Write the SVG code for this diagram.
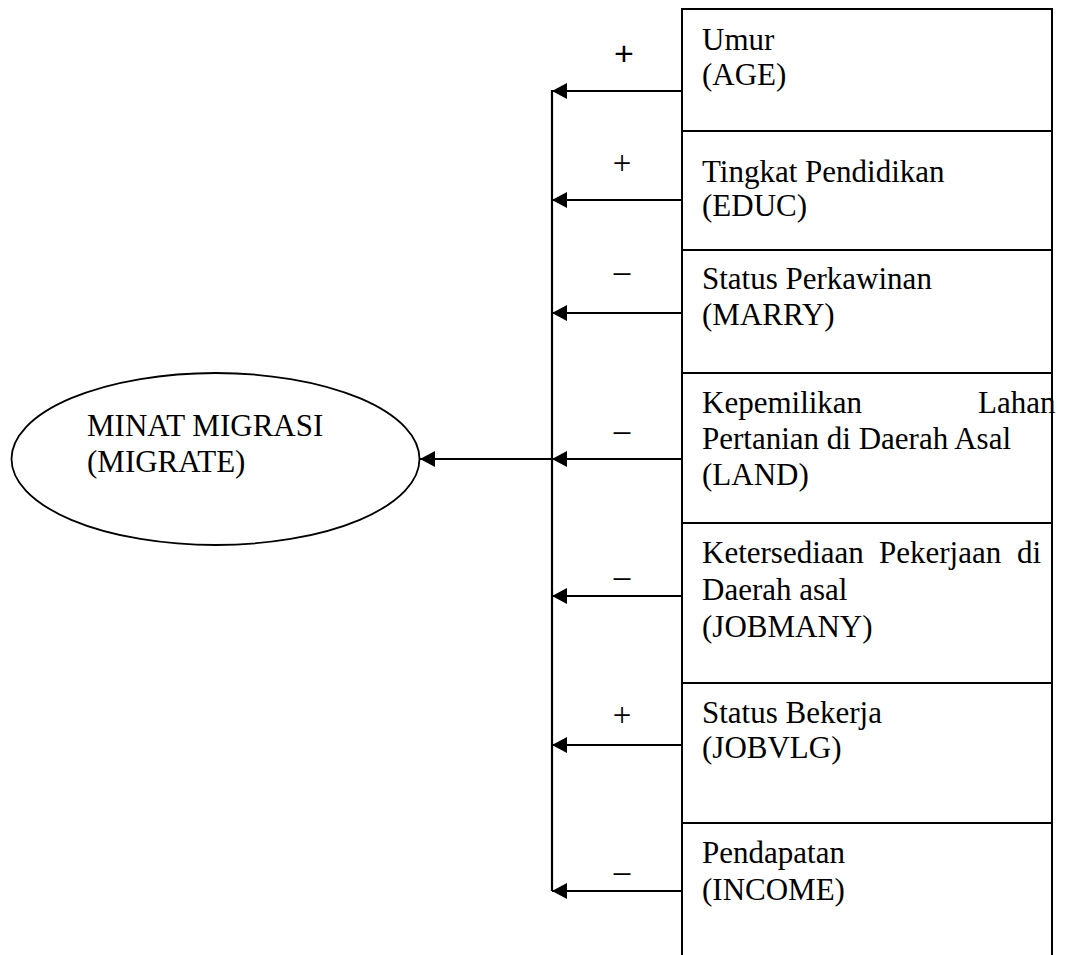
<svg xmlns="http://www.w3.org/2000/svg" width="1074" height="955" viewBox="0 0 1074 955">
  <style>
    .t { font-family: "Liberation Serif", "Times New Roman", serif; font-size: 31px; fill: #000; }
    .s { font-family: "Liberation Serif", "Times New Roman", serif; font-size: 33px; fill: #000; text-anchor: middle; }
    .sb { font-family: "Liberation Sans", Arial, sans-serif; font-size: 34px; fill: #000; text-anchor: middle; }
    .box { fill: none; stroke: #000; stroke-width: 2; }
    .conn { fill: none; stroke: #000; stroke-width: 2.2; }
  </style>
  <defs>
    <marker id="arr" markerUnits="userSpaceOnUse" viewBox="0 0 15 16" markerWidth="15" markerHeight="16" refX="15" refY="8" orient="auto">
      <path d="M0,0 L15,8 L0,16 z" fill="#000"/>
    </marker>
  </defs>
  <rect width="1074" height="955" fill="#fff"/>

  <g id="migrate">
    <ellipse cx="215.5" cy="459" rx="204" ry="86" fill="none" stroke="#000" stroke-width="1.8"/>
    <text class="t" x="87" y="436">MINAT MIGRASI</text>
    <text class="t" x="87" y="472">(MIGRATE)</text>
  </g>

  <g id="factors-frame">
    <path class="box" d="M682,955 V9 H1052 V955"/>
  </g>

  <g id="age">
    <line class="box" x1="682" y1="131" x2="1052" y2="131"/>
    <text class="t" x="702" y="50">Umur</text>
    <text class="t" x="702" y="85">(AGE)</text>
  </g>

  <g id="educ">
    <line class="box" x1="682" y1="250" x2="1052" y2="250"/>
    <text class="t" x="702" y="182">Tingkat Pendidikan</text>
    <text class="t" x="702" y="216">(EDUC)</text>
  </g>

  <g id="marry">
    <line class="box" x1="682" y1="373" x2="1052" y2="373"/>
    <text class="t" x="702" y="289">Status Perkawinan</text>
    <text class="t" x="702" y="325">(MARRY)</text>
  </g>

  <g id="land">
    <line class="box" x1="682" y1="523" x2="1052" y2="523"/>
    <text class="t" x="702" y="413">Kepemilikan</text>
    <text class="t" x="978" y="413">Lahan</text>
    <text class="t" x="702" y="449">Pertanian di Daerah Asal</text>
    <text class="t" x="702" y="485">(LAND)</text>
  </g>

  <g id="jobmany">
    <line class="box" x1="682" y1="683" x2="1052" y2="683"/>
    <text class="t" x="702" y="563">Ketersediaan</text>
    <text class="t" x="879" y="563">Pekerjaan</text>
    <text class="t" x="1017" y="563">di</text>
    <text class="t" x="702" y="600">Daerah asal</text>
    <text class="t" x="702" y="637">(JOBMANY)</text>
  </g>

  <g id="jobvlg">
    <line class="box" x1="682" y1="823" x2="1052" y2="823"/>
    <text class="t" x="702" y="723">Status Bekerja</text>
    <text class="t" x="702" y="758">(JOBVLG)</text>
  </g>

  <g id="income">
    <text class="t" x="702" y="863">Pendapatan</text>
    <text class="t" x="702" y="900">(INCOME)</text>
  </g>

  <g id="connectors">
    <line class="conn" x1="552" y1="90" x2="552" y2="891"/>
    <line class="conn" x1="682" y1="91" x2="552" y2="91" marker-end="url(#arr)"/>
    <line class="conn" x1="682" y1="200" x2="552" y2="200" marker-end="url(#arr)"/>
    <line class="conn" x1="682" y1="313" x2="552" y2="313" marker-end="url(#arr)"/>
    <line class="conn" x1="682" y1="459" x2="552" y2="459" marker-end="url(#arr)"/>
    <line class="conn" x1="682" y1="596" x2="552" y2="596" marker-end="url(#arr)"/>
    <line class="conn" x1="682" y1="745" x2="552" y2="745" marker-end="url(#arr)"/>
    <line class="conn" x1="682" y1="891" x2="552" y2="891" marker-end="url(#arr)"/>
    <line class="conn" x1="552" y1="459" x2="420" y2="459" marker-end="url(#arr)"/>
    <text class="sb" x="624" y="65">+</text>
    <text class="s" x="622" y="174">+</text>
    <text class="s" x="622" y="282">–</text>
    <text class="s" x="622" y="441">–</text>
    <text class="s" x="622" y="587">–</text>
    <text class="s" x="622" y="726">+</text>
    <text class="s" x="622" y="882">–</text>
  </g>
</svg>
